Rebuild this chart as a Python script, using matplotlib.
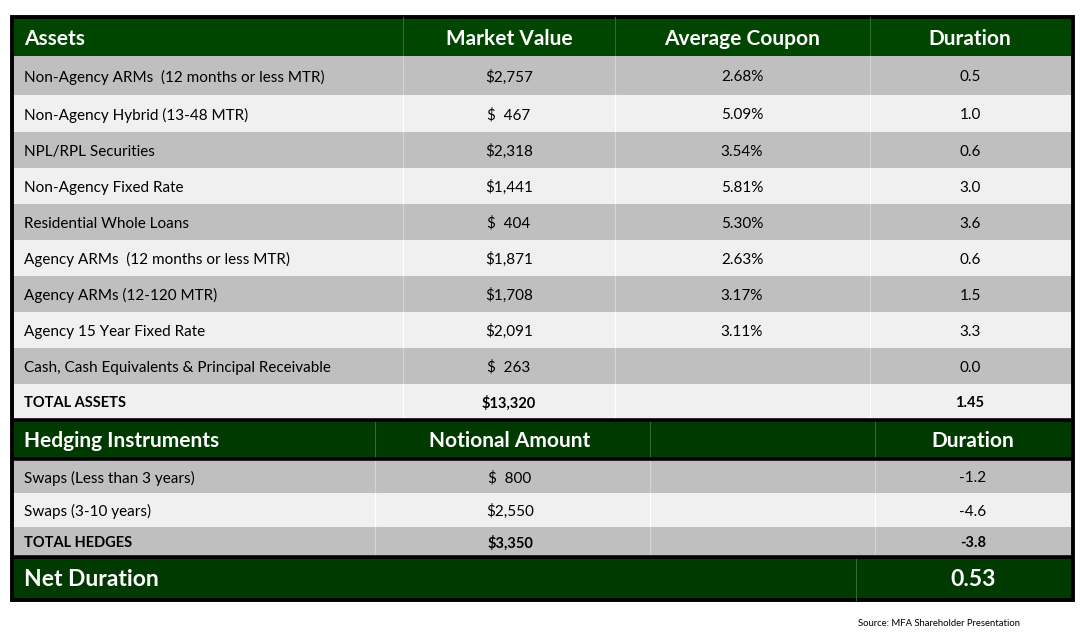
import matplotlib
matplotlib.use('Agg')
import matplotlib.pyplot as plt
from matplotlib.patches import Rectangle

# table content
asset_names = ['Non-Agency ARMs  (12 months or less MTR)', 'Non-Agency Hybrid (13-48 MTR)',
               'NPL/RPL Securities', 'Non-Agency Fixed Rate', 'Residential Whole Loans',
               'Agency ARMs  (12 months or less MTR)', 'Agency ARMs (12-120 MTR)',
               'Agency 15 Year Fixed Rate', 'Cash, Cash Equivalents & Principal Receivable']
asset_values = ['$2,757', '$  467', '$2,318', '$1,441', '$  404', '$1,871', '$1,708', '$2,091', '$  263']
asset_coupons = ['2.68%', '5.09%', '3.54%', '5.81%', '5.30%', '2.63%', '3.17%', '3.11%', '']
asset_durations = ['0.5', '1.0', '0.6', '3.0', '3.6', '0.6', '1.5', '3.3', '0.0']
total_assets = ['TOTAL ASSETS', '$13,320', '', '1.45']

hedge_names = ['Swaps (Less than 3 years)', 'Swaps (3-10 years)']
hedge_notional = ['$  800', '$2,550']
hedge_durations = ['-1.2', '-4.6']
total_hedges = ['TOTAL HEDGES', '$3,350', '', '-3.8']

net_duration = '0.53'
source = 'Source: MFA Shareholder Presentation'

GREEN1 = '#004500'
GREEN2 = '#003a00'
GRAY = '#bfbfbf'
LIGHT = '#f0f0f0'
FONT = 'Lato'

fig = plt.figure(figsize=(10.82, 6.44), dpi=100)
ax = fig.add_axes([0, 0, 1, 1])
ax.set_xlim(0, 1082)
ax.set_ylim(644, 0)
ax.axis('off')

L, R = 12, 1073

def band(y0, y1, color, divs, divcol):
    ax.add_patch(Rectangle((L, y0), R - L, y1 - y0, color=color, lw=0))
    for d in divs:
        ax.plot([d, d], [y0, y1], color=divcol, lw=0.8)

def cell(x, y, s, ha='center', size=11, weight='normal', color='black'):
    # small downward nudge so the text sits like the original
    ax.text(x, y + 1.5, s, ha=ha, va='center', fontsize=size, fontweight=weight,
            color=color, family=FONT)

# --- assets section
cols_a = [403, 615, 870]
cx_a = [24, 509, 742, 970]
band(17, 56, GREEN1, cols_a, '#2e6b2e')
for x, s, ha in zip(cx_a, ['Assets', 'Market Value', 'Average Coupon', 'Duration'],
                    ['left', 'center', 'center', 'center']):
    cell(x, 37, s, ha=ha, size=15, weight='bold', color='white')

edges = [56, 95, 132, 168, 204, 240, 276, 312, 348, 384, 419]
for i in range(len(asset_names)):
    y0, y1 = edges[i], edges[i + 1]
    bg = GRAY if i % 2 == 0 else LIGHT
    band(y0, y1, bg, cols_a, '#d4d4d4' if i % 2 == 0 else '#ffffff')
    yc = (y0 + y1) / 2
    cell(cx_a[0], yc, asset_names[i], ha='left')
    cell(cx_a[1], yc, asset_values[i])
    cell(cx_a[2], yc, asset_coupons[i])
    cell(cx_a[3], yc, asset_durations[i])

y0, y1 = edges[-2], edges[-1]
band(y0, y1, LIGHT, cols_a, '#ffffff')
yc = (y0 + y1) / 2
for j, s in enumerate(total_assets):
    cell(cx_a[j], yc, s, ha='left' if j == 0 else 'center', size=10.5, weight='bold')

# --- hedging section
cols_h = [375, 650, 875]
cx_h = [24, 510, 760, 973]
band(420, 458, GREEN2, cols_h, '#2e6b2e')
for x, s, ha in zip(cx_h, ['Hedging Instruments', 'Notional Amount', '', 'Duration'],
                    ['left', 'center', 'center', 'center']):
    cell(x, 439, s, ha=ha, size=15, weight='bold', color='white')

hedges = [460, 493, 527, 556]
for i in range(len(hedge_names)):
    y0, y1 = hedges[i], hedges[i + 1]
    bg = GRAY if i % 2 == 0 else LIGHT
    band(y0, y1, bg, cols_h, '#d4d4d4' if i % 2 == 0 else '#ffffff')
    yc = (y0 + y1) / 2
    cell(cx_h[0], yc, hedge_names[i], ha='left')
    cell(cx_h[1], yc, hedge_notional[i])
    cell(cx_h[3], yc, hedge_durations[i])

y0, y1 = hedges[-2], hedges[-1]
band(y0, y1, GRAY, cols_h, '#d4d4d4')
yc = (y0 + y1) / 2
for j, s in enumerate(total_hedges):
    cell(cx_h[j], yc, s, ha='left' if j == 0 else 'center', size=10.5, weight='bold')

# --- net duration
band(557, 600, GREEN2, [856], '#2e6b2e')
cell(24, 578.5, 'Net Duration', ha='left', size=16.5, weight='bold', color='white')
cell(973, 578.5, net_duration, size=16.5, weight='bold', color='white')

# black rules
for y in [420, 458.5, 556.5]:
    ax.plot([L, R], [y, y], color='black', lw=2.6, solid_capstyle='butt')
ax.add_patch(Rectangle((L, 17), R - L, 600 - 17, fill=False, ec='black', lw=2.8))

ax.text(1020, 623, source, ha='right', va='center', fontsize=6.8, family=FONT)

fig.savefig('out.png', dpi=100)
